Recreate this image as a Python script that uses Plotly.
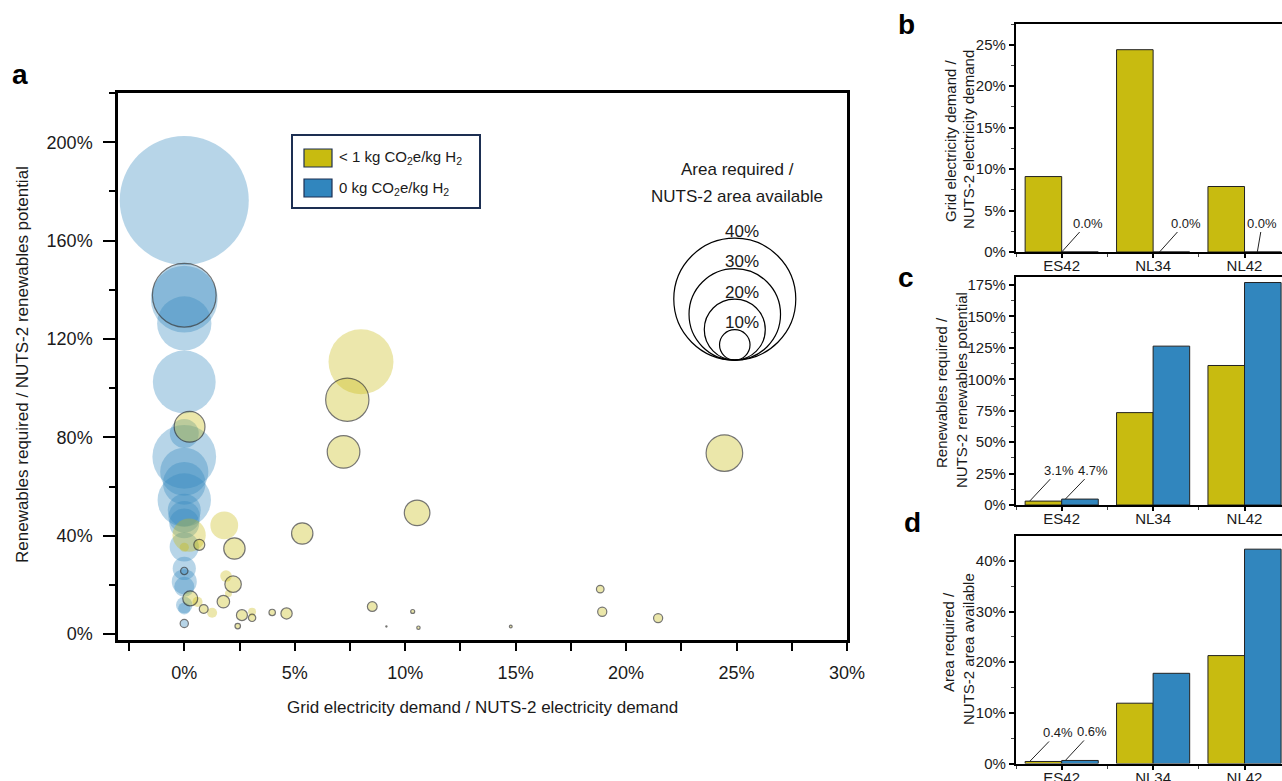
import plotly.graph_objects as go

W, H = 1282, 781

# ---------------- Panel a data ----------------
# x: grid electricity demand share (%), y: renewables required share (%), s: area required share (%)
yellow_plain_x = [8.0, 0.22, 1.81, 0.0, 0.6, 1.26, 1.89, 2.0, 3.07]
yellow_plain_y = [110.7, 40.2, 44.2, 35.3, 13.1, 8.7, 23.6, 16.5, 9.1]
yellow_plain_s = [21.3, 10.9, 9.1, 3.0, 3.3, 3.3, 3.8, 2.3, 2.6]

yellow_edge_x = [24.45, 9.15, 0.24, 0.68, 2.27, 5.34, 10.54, 7.38, 7.21, 0.27, 0.88, 2.21,
                 1.77, 2.61, 3.07, 2.42, 3.98, 4.63, 8.51, 10.34, 10.6, 14.78, 18.83, 18.92, 21.45]
yellow_edge_y = [73.6, 3.1, 84.3, 36.3, 34.8, 40.9, 49.3, 95.3, 74.1, 14.5, 10.2, 20.3,
                 13.2, 7.7, 6.6, 3.25, 8.8, 8.4, 11.2, 9.2, 2.6, 3.1, 18.3, 9.1, 6.5]
yellow_edge_s = [12.0, 0.4, 10.1, 3.6, 7.0, 7.0, 8.4, 14.2, 10.7, 4.9, 2.9, 5.4,
                 4.1, 3.6, 2.4, 1.8, 2.1, 3.7, 3.2, 1.3, 1.1, 0.9, 2.5, 3.0, 3.0]

blue_plain_x = [0, 0, 0, 0, 0, 0, 0, 0, 0, 0, 0, 0, 0, 0, 0, 0, 0, 0]
blue_plain_y = [176.3, 136.2, 126.3, 102.5, 81.6, 72.1, 66.0, 61.3, 54.5, 50.4, 47.7, 45.0,
                35.5, 26.7, 21.3, 19.2, 11.8, 10.4]
blue_plain_s = [42.3, 21.9, 17.8, 20.6, 9.5, 20.9, 15.8, 14.0, 17.5, 10.8, 10.4, 9.8,
                9.6, 7.6, 8.2, 6.6, 5.4, 4.0]

blue_edge_x = [0, 0, 0]
blue_edge_y = [137.8, 25.7, 4.3]
blue_edge_s = [20.9, 2.4, 2.7]

size_legend_vals = [40, 30, 20, 10]

# ---------------- Panels b, c, d data ----------------
regions = ["ES42", "NL34", "NL42"]
grid_low = [9.1, 24.4, 7.9]
grid_zero = [0.0, 0.0, 0.0]
ren_low = [3.1, 73.5, 111.0]
ren_zero = [4.7, 126.4, 177.0]
area_low = [0.4, 11.9, 21.3]
area_zero = [0.6, 17.8, 42.3]

# ---------------- styles ----------------
YEL = "rgb(200,187,16)"
BLU = "rgb(49,134,190)"
YEL_A = "rgba(200,187,16,0.5)"
BLU_A = "rgba(49,134,190,0.5)"
EDGE = "rgba(40,40,40,0.9)"
PX_PER_PCT = 3.05  # bubble diameter in px per % area
FONT = "Arial, Liberation Sans, sans-serif"
TXT = "#1a1a1a"


def px_x(p):
    return p / W


def px_y(p):
    return 1 - p / H


fig = go.Figure()


def bubbles(xs, ys, ss, fill, edge):
    fig.add_trace(go.Scatter(
        x=xs, y=ys, mode="markers", xaxis="x", yaxis="y", showlegend=False,
        hoverinfo="skip",
        marker=dict(size=[s * PX_PER_PCT for s in ss], sizemode="diameter",
                    color=fill,
                    line=dict(color=EDGE if edge else "rgba(0,0,0,0)", width=1.2 if edge else 0)),
    ))


bubbles(blue_plain_x, blue_plain_y, blue_plain_s, BLU_A, False)
bubbles(blue_edge_x, blue_edge_y, blue_edge_s, BLU_A, True)
bubbles(yellow_plain_x, yellow_plain_y, yellow_plain_s, YEL_A, False)
bubbles(yellow_edge_x, yellow_edge_y, yellow_edge_s, YEL_A, True)

pos = list(range(len(regions)))
for (low, zero, xa, ya) in [(grid_low, grid_zero, "x2", "y2"),
                            (ren_low, ren_zero, "x3", "y3"),
                            (area_low, area_zero, "x4", "y4")]:
    fig.add_trace(go.Bar(x=pos, y=low, xaxis=xa, yaxis=ya, offsetgroup="a", showlegend=False,
                         marker=dict(color=YEL, line=dict(color="#222", width=1))))
    fig.add_trace(go.Bar(x=pos, y=zero, xaxis=xa, yaxis=ya, offsetgroup="b", showlegend=False,
                         marker=dict(color=BLU, line=dict(color="#222", width=1))))

# ---------------- axes ----------------
def lin_axis(**kw):
    base = dict(showline=True, linecolor="black", showgrid=False, zeroline=False,
                ticks="outside", tickcolor="black", tickfont=dict(family=FONT, size=15, color=TXT))
    base.update(kw)
    return base


layout = dict(
    autosize=True, margin=dict(l=0, r=0, t=0, b=0, autoexpand=False),
    paper_bgcolor="white", plot_bgcolor="white",
    barmode="group", bargap=0.2, bargroupgap=0,
    font=dict(family=FONT, color=TXT),
    xaxis=lin_axis(domain=[px_x(118), px_x(847)], range=[-3, 30], tickmode="linear", tick0=0, dtick=5,
                   ticksuffix="%", ticklen=8, tickwidth=2, linewidth=2.5, mirror=True, anchor="y",
                   ticklabelstandoff=7, tickfont=dict(family=FONT, size=18, color=TXT),
                   minor=dict(dtick=2.5, tick0=0, ticks="outside", ticklen=8, tickwidth=2, tickcolor="black")),
    yaxis=lin_axis(domain=[px_y(640), px_y(93)], range=[-2.4, 220], tickmode="linear", tick0=0, dtick=40,
                   ticksuffix="%", ticklen=12, tickwidth=2, linewidth=2.5, mirror=True, anchor="x",
                   ticklabelstandoff=7, tickfont=dict(family=FONT, size=18, color=TXT),
                   minor=dict(dtick=20, tick0=0, ticks="outside", ticklen=6, tickwidth=2, tickcolor="black")),
)

bar_panels = [("2", (24, 252), [0, 27.5], 5, 2.5),
              ("3", (277, 505), [0, 181.4], 25, 12.5),
              ("4", (536, 763.5), [0, 44.9], 10, 5)]
for k, (top, bot), yr, dt, mdt in bar_panels:
    layout["xaxis" + k] = lin_axis(domain=[px_x(1016), 1.0], range=[-0.5, 2.41], anchor="y" + k,
                                   tickmode="array", tickvals=pos, ticktext=regions, ticklen=4, tickwidth=1.5,
                                   linewidth=2.2, mirror=True, ticklabelstandoff=-5,
                                   minor=dict(tickmode="linear", tick0=-0.5, dtick=0.5, ticks="outside",
                                              ticklen=3, tickwidth=1.2, tickcolor="#444"))
    layout["yaxis" + k] = lin_axis(domain=[px_y(bot), px_y(top)], range=yr, tickmode="linear", tick0=0,
                                   dtick=dt, anchor="x" + k,
                                   ticksuffix="%", ticklen=5, tickwidth=1.5, linewidth=2.2,
                                   minor=dict(dtick=mdt, ticks="outside", ticklen=3, tickwidth=1.2,
                                              tickcolor="#444"))

fig.update_layout(**layout)

ann = []


def text(x, y, s, size=17, angle=0, bold=False, xanchor="center"):
    ann.append(dict(x=px_x(x), y=px_y(y), xref="paper", yref="paper", text=s, showarrow=False,
                    textangle=angle, xanchor=xanchor, yanchor="middle",
                    font=dict(family=FONT, size=size, color="black" if bold else TXT)))


# axis titles
text(482, 707, "Grid electricity demand / NUTS-2 electricity demand", 17)
text(22, 365, "Renewables required / NUTS-2 renewables potential", 17, -90)
text(950, 141, "Grid electricity demand /", 15, -90)
text(968, 140, "NUTS-2 electricity demand", 15, -90)
text(941, 393, "Renewables required /", 15, -90)
text(961, 390, "NUTS-2 renewables potential", 15, -90)
text(948, 642, "Area required /", 15, -90)
text(968, 649, "NUTS-2 area available", 15, -90)

# panel letters
for lt, x, y in [("a", 20, 74), ("b", 906, 24), ("c", 906, 277), ("d", 913, 522)]:
    text(x, y, "<b>%s</b>" % lt, 28, bold=True)

# legend (colour)
shapes = []
shapes.append(dict(type="rect", xref="paper", yref="paper", x0=px_x(292), x1=px_x(480),
                   y0=px_y(208), y1=px_y(135), line=dict(color="#1d2f52", width=2), fillcolor="white"))
for (yc, col, lab) in [(158, YEL, "< 1 kg CO<sub>2</sub>e/kg H<sub>2</sub>"),
                       (188, BLU, "0 kg CO<sub>2</sub>e/kg H<sub>2</sub>")]:
    shapes.append(dict(type="rect", xref="paper", yref="paper", x0=px_x(304), x1=px_x(332),
                       y0=px_y(yc + 9), y1=px_y(yc - 9), line=dict(color="#1d2f52", width=1.2),
                       fillcolor=col))
    text(337, yc, lab, 15, xanchor="left")

# legend (size)
text(737, 170, "Area required /", 17)
text(737, 196, "NUTS-2 area available", 17)
anchor_x, anchor_y = 24.92, 111.4
for v in size_legend_vals:
    d = v * PX_PER_PCT
    shapes.append(dict(type="circle", xref="x", yref="y", xsizemode="pixel", ysizemode="pixel",
                       xanchor=anchor_x, yanchor=anchor_y, x0=-d / 2, x1=d / 2, y0=0, y1=d,
                       line=dict(color="black", width=1.2), fillcolor="rgba(0,0,0,0)"))
    ann.append(dict(x=anchor_x, y=anchor_y, xref="x", yref="y", text="%d%%" % v, showarrow=False,
                    xshift=7, yshift=d + 7, font=dict(family=FONT, size=17, color=TXT)))

# value call-outs on bars
def callout(xa, ya, xv, yv, s, ax, ay):
    ann.append(dict(x=xv, y=yv, xref=xa, yref=ya, text=s, showarrow=True, arrowhead=0,
                    arrowwidth=1, arrowcolor="#222", ax=ax, ay=ay, standoff=0,
                    font=dict(family=FONT, size=13, color=TXT)))

callout("x2", "y2", pos[0] + 0.0, grid_zero[0], "%.1f%%" % grid_zero[0], 26, -29)
callout("x2", "y2", pos[1] + 0.07, grid_zero[1], "%.1f%%" % grid_zero[1], 26, -29)
callout("x2", "y2", pos[2] + 0.14, grid_zero[2], "%.1f%%" % grid_zero[2], 5, -29)
callout("x3", "y3", pos[0] - 0.35, ren_low[0], "%.1f%%" % ren_low[0], 29, -31)
callout("x3", "y3", pos[0] + 0.04, ren_zero[0], "%.1f%%" % ren_zero[0], 28, -29)
callout("x4", "y4", pos[0] - 0.35, area_low[0], "%.1f%%" % area_low[0], 28, -29)
callout("x4", "y4", pos[0] + 0.04, area_zero[0], "%.1f%%" % area_zero[0], 27, -29)

fig.update_layout(annotations=ann, shapes=shapes)
fig.write_html("out.html",
               default_width="%dpx; position:absolute; left:0px; top:0px" % W,
               default_height="%dpx" % H,
               post_script="document.body.style.margin='0px';document.body.style.overflow='hidden';")
